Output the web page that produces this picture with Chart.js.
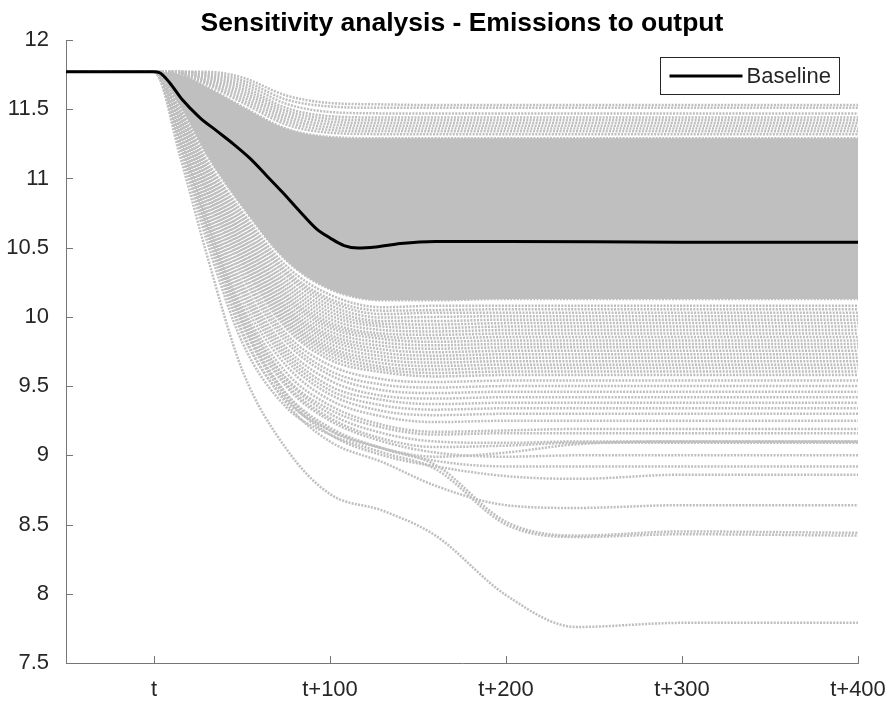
<!DOCTYPE html>
<html lang="en">
<head>
<meta charset="UTF-8">
<title>Sensitivity analysis - Emissions to output</title>
<script src="https://cdn.jsdelivr.net/npm/chart.js"></script>
<style>
  html, body { margin: 0; padding: 0; background: #fff; }
  #wrap { width: 893px; height: 704px; }
</style>
</head>
<body>
<div id="wrap"><canvas id="sensChart" width="893" height="704"></canvas></div>
<script>
var xGrid = [-50, 0, 15, 30, 50, 75, 100, 130, 160, 200, 240, 300, 400];

// x axis ticks
var xTickValues = [0, 100, 200, 300, 400];
var xTickLabels = ['t', 't+100', 't+200', 't+300', 't+400'];

// baseline run
var baselineX = [-50, 0, 3, 9, 16, 26, 36, 45, 55, 64, 73, 83, 92, 100, 108, 116, 126, 140, 160, 200, 300, 400];
var baselineY = [11.77, 11.77, 11.765, 11.69, 11.57, 11.44, 11.34, 11.25, 11.14, 11.02, 10.9, 10.76, 10.64, 10.57, 10.515, 10.497, 10.505, 10.53, 10.545, 10.545, 10.54, 10.54];

// sensitivity runs at the top of the fan
var upperRuns = [
    [11.77, 11.77, 11.77, 11.77, 11.73, 11.6, 11.545, 11.535, 11.53, 11.53, 11.53, 11.53, 11.53],
    [11.77, 11.77, 11.77, 11.76, 11.71, 11.57, 11.52, 11.51, 11.51, 11.51, 11.51, 11.51, 11.51],
    [11.77, 11.77, 11.77, 11.75, 11.69, 11.54, 11.48, 11.47, 11.47, 11.47, 11.47, 11.47, 11.47],
    [11.77, 11.77, 11.77, 11.74, 11.67, 11.51, 11.45, 11.44, 11.44, 11.44, 11.44, 11.44, 11.44],
    [11.77, 11.77, 11.76, 11.73, 11.65, 11.49, 11.43, 11.42, 11.42, 11.42, 11.42, 11.42, 11.42],
    [11.77, 11.77, 11.76, 11.72, 11.63, 11.47, 11.41, 11.4, 11.4, 11.4, 11.4, 11.4, 11.4],
    [11.77, 11.77, 11.76, 11.71, 11.61, 11.45, 11.39, 11.38, 11.38, 11.38, 11.38, 11.38, 11.38],
    [11.77, 11.77, 11.76, 11.7, 11.59, 11.43, 11.37, 11.36, 11.36, 11.36, 11.36, 11.36, 11.36],
    [11.77, 11.77, 11.75, 11.69, 11.57, 11.41, 11.35, 11.34, 11.34, 11.34, 11.34, 11.34, 11.34],
    [11.77, 11.77, 11.75, 11.68, 11.55, 11.39, 11.33, 11.32, 11.32, 11.32, 11.32, 11.32, 11.32]
];

// edges of the dense core where the runs overlap completely
var coreTop = [11.77, 11.77, 11.75, 11.66, 11.52, 11.36, 11.3, 11.29, 11.29, 11.29, 11.29, 11.29, 11.29];
var coreBottom = [11.77, 11.77, 11.52, 11.17, 10.8, 10.41, 10.2, 10.12, 10.12, 10.13, 10.13, 10.13, 10.13];

// runs below the core
var midRuns = [
    [11.77, 11.77, 11.5, 11.13, 10.76, 10.37, 10.16, 10.07, 10.08, 10.08, 10.08, 10.08, 10.08],
    [11.77, 11.77, 11.48, 11.1, 10.72, 10.32, 10.11, 10.02, 10.03, 10.03, 10.03, 10.03, 10.03],
    [11.77, 11.77, 11.47, 11.07, 10.68, 10.27, 10.06, 9.97, 9.97, 9.98, 9.98, 9.98, 9.98],
    [11.77, 11.77, 11.46, 11.05, 10.64, 10.22, 10.01, 9.93, 9.92, 9.93, 9.93, 9.93, 9.93],
    [11.77, 11.77, 11.45, 11.02, 10.6, 10.17, 9.96, 9.88, 9.87, 9.88, 9.88, 9.88, 9.88],
    [11.77, 11.77, 11.44, 11.0, 10.57, 10.13, 9.92, 9.84, 9.82, 9.83, 9.83, 9.83, 9.83],
    [11.77, 11.77, 11.43, 10.97, 10.53, 10.08, 9.87, 9.79, 9.77, 9.78, 9.78, 9.78, 9.78],
    [11.77, 11.77, 11.42, 10.95, 10.5, 10.04, 9.83, 9.74, 9.72, 9.73, 9.73, 9.73, 9.73],
    [11.77, 11.77, 11.41, 10.92, 10.46, 10.0, 9.78, 9.69, 9.67, 9.68, 9.68, 9.68, 9.68],
    [11.77, 11.77, 11.4, 10.9, 10.42, 9.96, 9.74, 9.64, 9.62, 9.63, 9.63, 9.63, 9.63],
    [11.77, 11.77, 11.39, 10.87, 10.38, 9.92, 9.69, 9.6, 9.57, 9.58, 9.58, 9.58, 9.58],
    [11.77, 11.77, 11.38, 10.85, 10.35, 9.88, 9.65, 9.55, 9.53, 9.54, 9.54, 9.54, 9.54],
    [11.77, 11.77, 11.37, 10.83, 10.32, 9.85, 9.61, 9.51, 9.49, 9.5, 9.5, 9.5, 9.5],
    [11.77, 11.77, 11.36, 10.8, 10.29, 9.82, 9.58, 9.47, 9.45, 9.46, 9.46, 9.46, 9.46],
    [11.77, 11.77, 11.35, 10.78, 10.25, 9.78, 9.54, 9.43, 9.41, 9.42, 9.42, 9.42, 9.42],
    [11.77, 11.77, 11.34, 10.76, 10.22, 9.75, 9.5, 9.4, 9.37, 9.38, 9.38, 9.38, 9.38],
    [11.77, 11.77, 11.33, 10.74, 10.19, 9.72, 9.47, 9.36, 9.33, 9.34, 9.34, 9.34, 9.34],
    [11.77, 11.77, 11.32, 10.72, 10.16, 9.69, 9.44, 9.32, 9.29, 9.3, 9.3, 9.3, 9.3],
    [11.77, 11.77, 11.31, 10.7, 10.12, 9.65, 9.4, 9.28, 9.24, 9.25, 9.25, 9.25, 9.25],
    [11.77, 11.77, 11.3, 10.67, 10.08, 9.6, 9.36, 9.22, 9.17, 9.18, 9.19, 9.19, 9.19],
    [11.77, 11.77, 11.29, 10.65, 10.05, 9.56, 9.33, 9.2, 9.15, 9.16, 9.16, 9.16, 9.16]
];

// more runs packed in the upper part of that range
var midRunsB = [
    [11.77, 11.77, 11.49, 11.11, 10.74, 10.34, 10.13, 10.045, 10.05, 10.055, 10.055, 10.055, 10.055],
    [11.77, 11.77, 11.475, 11.085, 10.7, 10.3, 10.085, 9.995, 10.0, 10.005, 10.005, 10.005, 10.005],
    [11.77, 11.77, 11.465, 11.06, 10.66, 10.245, 10.035, 9.95, 9.945, 9.955, 9.955, 9.955, 9.955],
    [11.77, 11.77, 11.455, 11.035, 10.62, 10.195, 9.985, 9.905, 9.895, 9.905, 9.905, 9.905, 9.905],
    [11.77, 11.77, 11.445, 11.01, 10.585, 10.15, 9.94, 9.86, 9.845, 9.855, 9.855, 9.855, 9.855],
    [11.77, 11.77, 11.435, 10.985, 10.55, 10.105, 9.895, 9.815, 9.795, 9.805, 9.805, 9.805, 9.805],
    [11.77, 11.77, 11.425, 10.96, 10.515, 10.06, 9.85, 9.765, 9.745, 9.755, 9.755, 9.755, 9.755],
    [11.77, 11.77, 11.415, 10.935, 10.48, 10.02, 9.805, 9.715, 9.695, 9.705, 9.705, 9.705, 9.705],
    [11.77, 11.77, 11.405, 10.91, 10.44, 9.98, 9.76, 9.665, 9.645, 9.655, 9.655, 9.655, 9.655],
    [11.77, 11.77, 11.395, 10.885, 10.4, 9.94, 9.715, 9.62, 9.595, 9.605, 9.605, 9.605, 9.605]
];

// the few runs that fall furthest
var lowerRuns = [
    [11.77, 11.77, 11.3, 10.72, 10.05, 9.55, 9.3, 9.16, 9.1, 9.09, 9.1, 9.1, 9.1],
    [11.77, 11.77, 11.29, 10.69, 10.02, 9.52, 9.27, 9.12, 9.06, 9.07, 9.09, 9.09, 9.09],
    [11.77, 11.77, 11.28, 10.66, 9.96, 9.44, 9.18, 9.05, 8.99, 9.02, 9.08, 9.1, 9.1],
    [11.77, 11.77, 11.27, 10.7, 10.0, 9.5, 9.25, 9.1, 9.02, 8.99, 9.0, 9.0, 9.0],
    [11.77, 11.77, 11.26, 10.68, 9.98, 9.45, 9.2, 9.05, 8.96, 8.92, 8.92, 8.92, 8.92],
    [11.77, 11.77, 11.25, 10.66, 9.95, 9.42, 9.15, 9.0, 8.92, 8.85, 8.83, 8.86, 8.86],
    [11.77, 11.77, 11.24, 10.63, 9.9, 9.38, 9.1, 8.95, 8.78, 8.64, 8.62, 8.64, 8.64],
    [11.77, 11.77, 11.22, 10.6, 9.88, 9.4, 9.18, 9.05, 8.93, 8.52, 8.42, 8.45, 8.44],
    [11.77, 11.77, 11.2, 10.55, 9.82, 9.35, 9.15, 9.02, 8.9, 8.5, 8.41, 8.43, 8.42],
    [11.77, 11.77, 11.15, 10.45, 9.62, 9.05, 8.72, 8.6, 8.42, 7.99, 7.76, 7.79, 7.79]
];

var runColor = '#bfbfbf';
var axisColor = '#767676';
var textColor = '#262626';

function toPoints(xs, ys) {
    return xs.map(function (x, i) { return { x: x, y: ys[i] }; });
}

function runDataset(vals) {
    return {
        label: 'run',
        data: toPoints(xGrid, vals),
        borderColor: runColor,
        borderWidth: 2.5,
        borderDash: [2, 1.3],
        pointRadius: 0,
        fill: false,
        cubicInterpolationMode: 'monotone'
    };
}

var datasets = [];
datasets.push({
    label: 'Baseline',
    data: toPoints(baselineX, baselineY),
    borderColor: '#000000',
    borderWidth: 3,
    pointRadius: 0,
    fill: false,
    cubicInterpolationMode: 'monotone'
});
upperRuns.forEach(function (r) { datasets.push(runDataset(r)); });
midRuns.forEach(function (r) { datasets.push(runDataset(r)); });
midRunsB.forEach(function (r) { datasets.push(runDataset(r)); });
lowerRuns.forEach(function (r) { datasets.push(runDataset(r)); });

// dense core: filled between its two edges
var coreTopIndex = datasets.length;
datasets.push(runDataset(coreTop));
var coreBottomSet = runDataset(coreBottom);
coreBottomSet.fill = { target: coreTopIndex };
coreBottomSet.backgroundColor = runColor;
datasets.push(coreBottomSet);

// inward tick marks like the original axes
var innerTicks = {
    id: 'innerTicks',
    afterDraw: function (chart) {
        var ctx = chart.ctx, a = chart.chartArea;
        var xs = chart.scales.x, ys = chart.scales.y;
        ctx.save();
        ctx.strokeStyle = axisColor;
        ctx.lineWidth = 1;
        ctx.beginPath();
        ys.ticks.forEach(function (t) {
            var py = Math.round(ys.getPixelForValue(t.value)) + 0.5;
            ctx.moveTo(a.left, py);
            ctx.lineTo(a.left + 7, py);
        });
        xs.ticks.forEach(function (t) {
            var px = Math.round(xs.getPixelForValue(t.value)) + 0.5;
            ctx.moveTo(px, a.bottom);
            ctx.lineTo(px, a.bottom - 7);
        });
        ctx.stroke();
        ctx.restore();
    }
};

// boxed legend in the top right corner of the plot
var boxLegend = {
    id: 'boxLegend',
    afterDraw: function (chart) {
        var ctx = chart.ctx, a = chart.chartArea;
        var w = 179, h = 37;
        var left = Math.round(a.right - 19 - w) + 0.5;
        var top = Math.round(a.top + 17) + 0.5;
        var base = chart.data.datasets[0];
        ctx.save();
        ctx.fillStyle = '#ffffff';
        ctx.fillRect(left, top, w, h);
        ctx.strokeStyle = textColor;
        ctx.lineWidth = 1;
        ctx.strokeRect(left, top, w, h);
        ctx.beginPath();
        ctx.strokeStyle = base.borderColor;
        ctx.lineWidth = base.borderWidth;
        ctx.moveTo(left + 9, top + h / 2);
        ctx.lineTo(left + 82, top + h / 2);
        ctx.stroke();
        ctx.fillStyle = textColor;
        ctx.font = '22px "Liberation Sans", Arial, sans-serif';
        ctx.textBaseline = 'middle';
        ctx.fillText(base.label, left + 86, top + h / 2 + 1);
        ctx.restore();
    }
};

Chart.defaults.font.family = '"Liberation Sans", Arial, sans-serif';
Chart.defaults.color = textColor;

var ctx = document.getElementById('sensChart').getContext('2d');
var sensChart = new Chart(ctx, {
    type: 'line',
    data: { datasets: datasets },
    options: {
        responsive: false,
        animation: false,
        devicePixelRatio: 1,
        layout: { padding: { left: 0, right: 35, top: 0, bottom: 0 } },
        plugins: {
            legend: { display: false },
            tooltip: { enabled: false },
            title: {
                display: true,
                fullSize: false,
                text: 'Sensitivity analysis - Emissions to output',
                color: '#000000',
                font: { size: 26.5, weight: 'bold', lineHeight: 1.2 },
                padding: { top: 8, bottom: 0.2 }
            }
        },
        scales: {
            x: {
                type: 'linear',
                min: -50,
                max: 400,
                afterBuildTicks: function (s) {
                    s.ticks = xTickValues.map(function (v) { return { value: v }; });
                },
                afterFit: function (s) {
                    s.height = 41;
                    s.paddingLeft = 0;
                    s.paddingRight = 0;
                },
                ticks: {
                    callback: function (v, i) { return xTickLabels[i]; },
                    font: { size: 22 },
                    color: textColor,
                    padding: 14,
                    maxRotation: 0,
                    autoSkip: false
                },
                grid: { display: false, drawTicks: false },
                border: { display: true, color: axisColor, width: 1 }
            },
            y: {
                min: 7.5,
                max: 12,
                afterFit: function (s) { s.width = 66; },
                ticks: {
                    stepSize: 0.5,
                    callback: function (v) { return String(v); },
                    font: { size: 22 },
                    color: textColor,
                    padding: 17
                },
                grid: { display: false, drawTicks: false },
                border: { display: true, color: axisColor, width: 1 }
            }
        }
    },
    plugins: [innerTicks, boxLegend]
});
</script>
</body>
</html>
